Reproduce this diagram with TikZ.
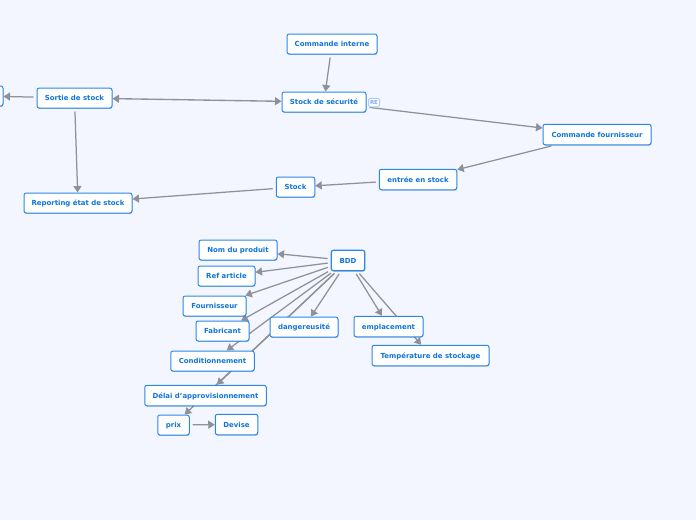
\documentclass[tikz,border=0pt]{standalone}
\usepackage{fontspec}
\setmainfont{DejaVu Sans}
\usetikzlibrary{arrows.meta,backgrounds,shadows}
\definecolor{pagebg}{HTML}{F3F6FF}
\definecolor{boxline}{HTML}{2A88EA}
\definecolor{boxtext}{HTML}{0F74DC}
\definecolor{linkgray}{HTML}{8F9199}
\definecolor{badgeline}{HTML}{A9CDF8}
\tikzset{
  box/.style={draw=boxline,fill=white,rounded corners=2.2pt,line width=1pt,inner sep=0pt,
    font=\fontsize{6.95}{8}\selectfont\bfseries,text=boxtext,text height=6.3pt,text depth=0.5pt,
    drop shadow={shadow xshift=0.4pt,shadow yshift=-0.9pt,fill=black!60!boxline,opacity=0.3}},
  link/.style={draw=linkgray,line width=1.25pt,shorten <=3pt,-{Triangle[length=6.5pt,width=8pt,fill=linkgray]}},
  dlink/.style={draw=linkgray,line width=1.35pt,{Triangle[length=6.5pt,width=8pt,fill=linkgray]}-{Triangle[length=6.5pt,width=8pt,fill=linkgray]}},
  badge/.style={draw=badgeline,fill=white,rounded corners=1.5pt,line width=1pt,inner sep=0pt,
    minimum width=11pt,minimum height=8.5pt,font=\fontsize{5.5}{6}\selectfont\bfseries,text=badgeline!80!blue}
}
\begin{document}
\begin{tikzpicture}[x=1pt,y=-1pt]
\useasboundingbox (0,0) rectangle (696,520);
\node[box,minimum width=90pt,minimum height=20pt] (ci) at (332,44) {Commande interne};
\node[box,minimum width=84pt,minimum height=20pt] (ss) at (324,102) {Stock de sécurité};
\node[badge] (re) at (374,102.5) {RE};
\node[box,minimum width=75pt,minimum height=20pt] (so) at (74.5,98) {Sortie de stock};
\node[box,minimum width=40pt,minimum height=20pt] (stub) at (-17,96) {};
\node[box,minimum width=108pt,minimum height=20pt] (rep) at (78,203) {Reporting état de stock};
\node[box,minimum width=38.5pt,minimum height=20pt] (st) at (295.5,187) {Stock};
\node[box,minimum width=77.5pt,minimum height=20.5pt] (en) at (418,179.5) {entrée en stock};
\node[box,minimum width=108pt,minimum height=20.5pt] (cf) at (597,134.5) {Commande fournisseur};
\node[box,minimum width=33.5pt,minimum height=20.5pt,line width=1.2pt] (bdd) at (348,260.5) {BDD};
\node[box,minimum width=78pt,minimum height=20pt] (nom) at (238,250) {Nom du produit};
\node[box,minimum width=57pt,minimum height=20pt] (ref) at (226.5,276) {Ref article};
\node[box,minimum width=63pt,minimum height=20pt] (fou) at (214.5,306) {Fournisseur};
\node[box,minimum width=53pt,minimum height=20pt] (fab) at (222.5,331) {Fabricant};
\node[box,minimum width=68pt,minimum height=20pt] (dan) at (304,327) {dangereusité};
\node[box,minimum width=83.5pt,minimum height=20pt] (con) at (212.5,361) {Conditionnement};
\node[box,minimum width=121.5pt,minimum height=20.5pt] (del) at (205.5,395.5) {Délai d'approvisionnement};
\node[box,minimum width=31.5pt,minimum height=20pt] (pri) at (173.5,425) {prix};
\node[box,minimum width=42.5pt,minimum height=20.5pt] (dev) at (236.5,424.5) {Devise};
\node[box,minimum width=69pt,minimum height=20.5pt] (emp) at (388.5,326.5) {emplacement};
\node[box,minimum width=117pt,minimum height=20.5pt] (tem) at (430.5,355.5) {Température de stockage};
\begin{pgfonlayer}{background}
\fill[pagebg] (0,0) rectangle (696,520);
\draw[link] (ci) -- (ss);
\draw[dlink] (so) -- (ss);
\draw[link] (so) -- (stub);
\draw[link] (so) -- (rep);
\draw[link] (ss) -- (cf);
\draw[link] (cf) -- (en);
\draw[link] (en) -- (st);
\draw[link] (st) -- (rep);
\draw[link] (bdd) -- (nom);
\draw[link] (bdd) -- (ref);
\draw[link] (bdd) -- (fou);
\draw[link] (bdd) -- (fab);
\draw[link] (bdd) -- (dan);
\draw[link] (bdd) -- (con);
\draw[link] (bdd) -- (del);
\draw[link] (bdd) -- (pri);
\draw[link] (bdd) -- (emp);
\draw[link] (bdd) -- (tem);
\draw[link] (pri) -- (dev);
\end{pgfonlayer}
\end{tikzpicture}
\end{document}
